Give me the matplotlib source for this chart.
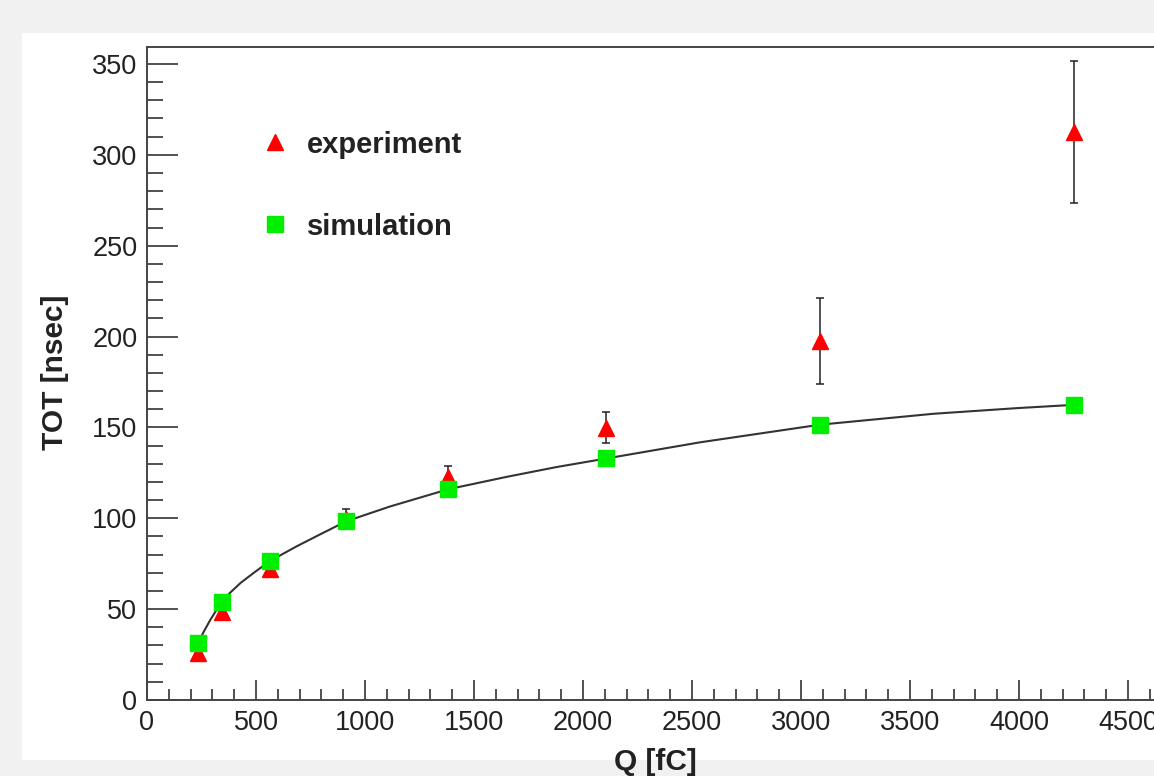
import matplotlib.pyplot as plt
from matplotlib.lines import Line2D
from matplotlib.patches import Rectangle

plt.rcParams['font.family'] = ['Liberation Sans', 'DejaVu Sans']

# simulation points (Q in fC, TOT in ns)
sim_q = [234, 344, 564, 913, 1383, 2107, 3087, 4250]
sim_tot = [31.4, 53.8, 76.5, 98.3, 116.0, 132.9, 151.5, 162.4]

# experiment points with errors
exp_q = [234, 344, 564, 913, 1383, 2107, 3087, 4250]
exp_tot = [26.0, 48.5, 72.0, 99.5, 122.5, 149.8, 197.5, 312.5]
exp_err = [4.0, 3.0, 3.0, 5.5, 6.0, 8.5, 23.5, 39.0]

# fitted curve
fit_q = [234, 260, 290, 320, 344, 381, 430, 490, 564, 687, 800, 913, 1115,
         1383, 1650, 1879, 2107, 2537, 3087, 3607, 3989, 4250]
fit_tot = [31.4, 37.5, 44.0, 49.8, 53.8, 59.0, 64.5, 70.0, 76.5, 84.6, 91.5,
           98.3, 106.5, 116.0, 122.8, 128.2, 132.9, 141.8, 151.5, 157.5,
           160.6, 162.4]

fig = plt.figure(figsize=(11.54, 7.76), dpi=100, facecolor='#f1f1f1')
fig.patches.append(Rectangle((22 / 1154, 1 - 760 / 776), 1, (760 - 33) / 776,
                             transform=fig.transFigure, facecolor='white',
                             edgecolor='none', zorder=-10))

ax = fig.add_axes([147 / 1154, 1 - 700 / 776, 1 - 147 / 1154, (700 - 46.7) / 776])
ax.set_facecolor('white')

ax.plot(fit_q, fit_tot, '-', color='#333333', lw=1.5, zorder=2)
ax.errorbar(exp_q, exp_tot, yerr=exp_err, fmt='none', ecolor='#222222',
            elinewidth=1.1, capsize=2.9, capthick=1.1, zorder=3)
ax.plot(exp_q, exp_tot, '^', color='red', markersize=11, mec='red', zorder=4)
ax.plot(sim_q, sim_tot, 's', color='#00ee00', markersize=11.5, mec='#00ee00', zorder=5)

ax.set_xlim(0, (1154 - 147) / 0.218)
ax.set_ylim(0, 359.5)
ax.set_xticks(range(0, 4501, 500))
ax.set_xticks(range(0, 4601, 100), minor=True)
ax.set_yticks(range(0, 351, 50))
ax.set_yticks(range(0, 351, 10), minor=True)

for side in ['top', 'left', 'bottom']:
    ax.spines[side].set_color('#444444')
    ax.spines[side].set_linewidth(1.4)
ax.spines['right'].set_visible(False)

ax.tick_params(axis='both', which='both', direction='in', colors='#333333',
               labelcolor='#222222', labelsize=19.5, width=1.2)
ax.tick_params(axis='y', which='major', length=22, pad=7)
ax.tick_params(axis='y', which='minor', length=11.5)
ax.tick_params(axis='x', which='major', length=14.5, pad=7)
ax.tick_params(axis='x', which='minor', length=8)

fig.text(55 / 1154, 1 - 372.5 / 776, 'TOT [nsec]', rotation=90, ha='center',
         va='center', fontsize=21.5, fontweight='bold', color='#222222')
fig.text(655 / 1154, 1 - 762 / 776, 'Q [fC]', ha='center', va='center',
         fontsize=21.5, fontweight='bold', color='#222222')

handles = [Line2D([], [], ls='none', marker='^', color='red', markersize=11),
           Line2D([], [], ls='none', marker='s', color='#00ee00', markersize=11)]
leg = ax.legend(handles, ['experiment', 'simulation'], loc='upper left',
                bbox_to_anchor=(249 / 1154, 1 - 116 / 776),
                bbox_transform=fig.transFigure, frameon=False,
                prop={'weight': 'bold', 'size': 21}, handlelength=0.8,
                handletextpad=0.7, labelspacing=1.85, borderpad=0)
for t in leg.get_texts():
    t.set_color('#222222')

fig.savefig('out.png', dpi=100, facecolor=fig.get_facecolor())
